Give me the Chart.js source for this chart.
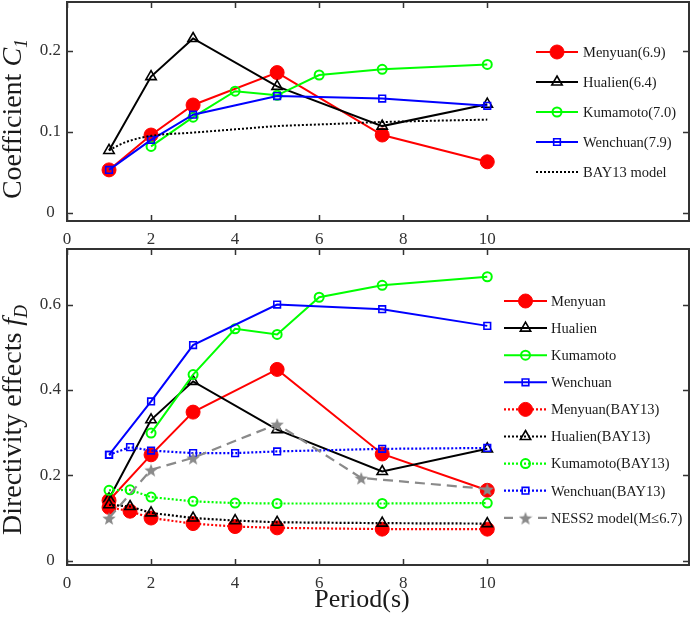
<!DOCTYPE html>
<html>
<head>
<meta charset="utf-8">
<script src="https://cdn.jsdelivr.net/npm/chart.js@4.4.0/dist/chart.umd.min.js"></script>
<style>
    html, body { margin: 0; padding: 0; background: #fff; width: 692px; height: 617px; overflow: hidden; }
    canvas { position: absolute; left: 0; }
    #topChart { top: 0; }
    #bottomChart { top: 246px; }
</style>
</head>
<body>
<canvas id="topChart" width="692" height="246"></canvas>
<canvas id="bottomChart" width="692" height="371"></canvas>
<script>
// Tick labels
const xTicks = [0, 2, 4, 6, 8, 10];
const topYTicks = [0, 0.1, 0.2];
const bottomYTicks = [0, 0.2, 0.4, 0.6];

// Top panel: coefficient C1
const periods = [1, 2, 3, 5, 7.5, 10];
const kumamotoPeriods = [2, 3, 4, 5, 6, 7.5, 10];
const bay13Periods = [1, 1.25, 1.5, 2, 3, 4, 5, 6, 7.5, 10];
const menyuanC1 = [0.053, 0.096, 0.133, 0.173, 0.096, 0.063];
const hualienC1 = [0.077, 0.168, 0.215, 0.156, 0.107, 0.134];
const kumamotoC1 = [0.082, 0.118, 0.150, 0.145, 0.170, 0.177, 0.183];
const wenchuanC1 = [0.053, 0.090, 0.121, 0.144, 0.141, 0.132];
const bay13C1 = [0.077, 0.084, 0.089, 0.095, 0.099, 0.103, 0.107, 0.109, 0.112, 0.115];

// Bottom panel: directivity effects fD
const bayPeriods = [1, 1.5, 2, 3, 4, 5, 7.5, 10];
const ness2Periods = [1, 2, 3, 5, 7, 10];
const menyuanFD = [0.141, 0.248, 0.348, 0.448, 0.250, 0.165];
const hualienFD = [0.145, 0.330, 0.420, 0.307, 0.209, 0.262];
const kumamotoFD = [0.299, 0.436, 0.543, 0.530, 0.617, 0.645, 0.665];
const wenchuanFD = [0.248, 0.373, 0.505, 0.600, 0.589, 0.550];
const menyuanBay = [0.125, 0.116, 0.100, 0.087, 0.080, 0.077, 0.074, 0.074];
const hualienBay = [0.131, 0.127, 0.112, 0.100, 0.094, 0.090, 0.088, 0.087];
const kumamotoBay = [0.165, 0.166, 0.149, 0.139, 0.135, 0.134, 0.134, 0.135];
const wenchuanBay = [0.248, 0.266, 0.258, 0.252, 0.252, 0.256, 0.262, 0.264];
const ness2FD = [0.100, 0.213, 0.241, 0.320, 0.194, 0.168];

const SERIF = "'Liberation Serif', 'Times New Roman', serif";
const RED = '#ff0000', BLACK = '#000000', GREEN = '#00ff00', BLUE = '#0000ff', GRAY = '#8a8a8a';
const NONE = 'rgba(0,0,0,0)';
const AXIS = '#333333';

function pts(xs, ys) {
    return xs.map((x, i) => ({ x: x, y: ys[i] }));
}

// Filled five-point star used as the NESS2 marker
function starImage(size, color) {
    const c = document.createElement('canvas');
    c.width = c.height = size;
    const g = c.getContext('2d');
    const r = size / 2, ri = r * 0.42;
    g.beginPath();
    for (let k = 0; k < 10; k++) {
        const rr = k % 2 ? ri : r;
        const ang = -Math.PI / 2 + k * Math.PI / 5;
        g.lineTo(r + rr * Math.cos(ang), r + 1 + rr * Math.sin(ang));
    }
    g.closePath();
    g.fillStyle = color;
    g.fill();
    return c;
}
const star = starImage(14, GRAY);

const marker = {
    menyuan: { pointStyle: 'circle', pointRadius: 7, pointBackgroundColor: RED, pointBorderColor: RED, pointBorderWidth: 1 },
    hualien: { pointStyle: 'triangle', pointRadius: 6, pointBackgroundColor: NONE, pointBorderColor: BLACK, pointBorderWidth: 1.6 },
    kumamoto: { pointStyle: 'circle', pointRadius: 4.5, pointBackgroundColor: NONE, pointBorderColor: GREEN, pointBorderWidth: 2 },
    wenchuan: { pointStyle: 'rect', pointRadius: 4.7, pointBackgroundColor: NONE, pointBorderColor: BLUE, pointBorderWidth: 1.6 }
};

function series(label, xs, ys, color, mk, dash) {
    return Object.assign({
        label: label,
        data: pts(xs, ys),
        borderColor: color,
        borderWidth: dash ? 2.2 : 2,
        borderDash: dash || [],
        backgroundColor: color
    }, mk);
}

const topData = [
    series('Menyuan(6.9)', periods, menyuanC1, RED, marker.menyuan),
    series('Hualien(6.4)', periods, hualienC1, BLACK, marker.hualien),
    series('Kumamoto(7.0)', kumamotoPeriods, kumamotoC1, GREEN, marker.kumamoto),
    series('Wenchuan(7.9)', periods, wenchuanC1, BLUE, marker.wenchuan),
    Object.assign(series('BAY13 model', bay13Periods, bay13C1, BLACK, { pointRadius: 0 }, [2, 2]),
        { cubicInterpolationMode: 'monotone', borderWidth: 2 })
];

const ness2 = series('NESS2 model(M\u22646.7)', ness2Periods, ness2FD, GRAY,
    { pointStyle: star, pointRadius: 7 }, [10, 6]);
ness2.legendDash = [9, 25];

const bottomData = [
    series('Menyuan', periods, menyuanFD, RED, marker.menyuan),
    series('Hualien', periods, hualienFD, BLACK, marker.hualien),
    series('Kumamoto', kumamotoPeriods, kumamotoFD, GREEN, marker.kumamoto),
    series('Wenchuan', periods, wenchuanFD, BLUE, marker.wenchuan),
    series('Menyuan(BAY13)', bayPeriods, menyuanBay, RED, marker.menyuan, [2, 2]),
    series('Hualien(BAY13)', bayPeriods, hualienBay, BLACK, marker.hualien, [2, 2]),
    series('Kumamoto(BAY13)', bayPeriods, kumamotoBay, GREEN, marker.kumamoto, [2, 2]),
    series('Wenchuan(BAY13)', bayPeriods, wenchuanBay, BLUE, marker.wenchuan, [2, 2]),
    ness2
];

// later series are drawn on top, as in the original figure
[topData, bottomData].forEach(list => list.forEach((d, i) => { d.order = list.length - i; }));

function drawRotated(ctx, parts, x, cy) {
    ctx.save();
    ctx.translate(x, cy);
    ctx.rotate(-Math.PI / 2);
    ctx.fillStyle = '#1a1a1a';
    ctx.textBaseline = 'alphabetic';
    ctx.textAlign = 'left';
    let w = 0;
    parts.forEach(p => { ctx.font = p.font; w += ctx.measureText(p.text).width; });
    let cx = -w / 2;
    parts.forEach(p => {
        ctx.font = p.font;
        ctx.fillText(p.text, cx, p.dy || 0);
        cx += ctx.measureText(p.text).width;
    });
    ctx.restore();
}

// Box with inward ticks, axis titles and the in-plot legend
const decor = {
    id: 'decor',
    afterDraw(chart, args, opts) {
        const ctx = chart.ctx;
        const a = chart.chartArea;
        const xs = chart.scales.x, ys = chart.scales.y;
        ctx.save();
        ctx.setLineDash([]);
        ctx.strokeStyle = AXIS;
        ctx.lineWidth = 1.5;
        ctx.beginPath();
        xTicks.forEach(v => {
            const px = Math.round(xs.getPixelForValue(v)) + 0.5;
            ctx.moveTo(px, a.bottom); ctx.lineTo(px, a.bottom - 6);
            ctx.moveTo(px, a.top); ctx.lineTo(px, a.top + 6);
        });
        opts.yTicks.forEach(v => {
            const py = Math.round(ys.getPixelForValue(v)) + 0.5;
            ctx.moveTo(a.left, py); ctx.lineTo(a.left + 6, py);
            ctx.moveTo(a.right, py); ctx.lineTo(a.right - 6, py);
        });
        ctx.stroke();
        ctx.lineWidth = 2;
        ctx.strokeRect(a.left, a.top, a.right - a.left, a.bottom - a.top);

        drawRotated(ctx, opts.title, 21, opts.titleY);

        if (opts.xTitle) {
            ctx.font = '26px ' + SERIF;
            ctx.fillStyle = '#1a1a1a';
            ctx.textAlign = 'center';
            ctx.textBaseline = 'alphabetic';
            ctx.fillText(opts.xTitle.text, opts.xTitle.x, opts.xTitle.y);
        }

        const lg = opts.legend;
        chart.data.datasets.forEach((d, i) => {
            const y = lg.y0 + i * lg.dy;
            ctx.save();
            ctx.strokeStyle = d.borderColor;
            ctx.lineWidth = d.borderWidth;
            ctx.setLineDash(d.legendDash || d.borderDash || []);
            ctx.beginPath();
            ctx.moveTo(lg.x0, y);
            ctx.lineTo(lg.x1, y);
            ctx.stroke();
            ctx.setLineDash([]);
            if (d.pointRadius > 0) {
                ctx.fillStyle = d.pointBackgroundColor || d.borderColor;
                ctx.strokeStyle = d.pointBorderColor || d.borderColor;
                ctx.lineWidth = d.pointBorderWidth || 1;
                Chart.helpers.drawPoint(ctx, {
                    pointStyle: d.pointStyle, radius: d.pointRadius,
                    rotation: 0, borderWidth: d.pointBorderWidth || 0
                }, (lg.x0 + lg.x1) / 2, y);
            }
            ctx.restore();
            ctx.font = '14.5px ' + SERIF;
            ctx.fillStyle = '#1a1a1a';
            ctx.textAlign = 'left';
            ctx.textBaseline = 'middle';
            ctx.fillText(d.label, lg.textX, y + 1);
        });
        ctx.restore();
    }
};

function scalesFor(yMin, yMax, yTicks, xHeight) {
    const tickFont = { family: SERIF, size: 17 };
    return {
        x: {
            type: 'linear', min: 0, max: 14.8,
            grid: { display: false, drawTicks: false },
            border: { display: false },
            afterBuildTicks: s => { s.ticks = xTicks.map(v => ({ value: v })); },
            afterFit: s => { s.height = xHeight; s.paddingLeft = 0; s.paddingRight = 0; },
            ticks: { font: tickFont, color: AXIS, padding: 8, maxRotation: 0, autoSkip: false }
        },
        y: {
            type: 'linear', min: yMin, max: yMax,
            grid: { display: false, drawTicks: false },
            border: { display: false },
            afterBuildTicks: s => { s.ticks = yTicks.map(v => ({ value: v })); },
            afterFit: s => { s.width = 67; s.paddingTop = 0; s.paddingBottom = 0; },
            ticks: { font: tickFont, color: AXIS, padding: 6, crossAlign: 'center', callback: v => String(v) }
        }
    };
}

function makeChart(id, datasets, scales, padding, decorOpts) {
    return new Chart(document.getElementById(id).getContext('2d'), {
        type: 'line',
        data: { datasets: datasets },
        options: {
            responsive: false,
            animation: false,
            devicePixelRatio: 1,
            layout: { padding: padding, autoPadding: false },
            scales: scales,
            plugins: {
                legend: { display: false },
                tooltip: { enabled: false },
                decor: decorOpts
            }
        },
        plugins: [decor]
    });
}

makeChart('topChart', topData, scalesFor(-0.01, 0.26, topYTicks, 25),
    { top: 2, right: 3, left: 0, bottom: 0 },
    {
        yTicks: topYTicks,
        title: [
            { text: 'Coefficient ', font: '28px ' + SERIF },
            { text: 'C', font: 'italic 28px ' + SERIF },
            { text: '1', font: 'italic 18px ' + SERIF, dy: 6 }
        ],
        titleY: 119,
        legend: { x0: 536, x1: 578, textX: 583, y0: 52, dy: 30 }
    });

makeChart('bottomChart', bottomData, scalesFor(-0.01, 0.73, bottomYTicks, 52),
    { top: 3, right: 3, left: 0, bottom: 0 },
    {
        yTicks: bottomYTicks,
        title: [
            { text: 'Directivity effects ', font: '28px ' + SERIF },
            { text: 'f', font: 'italic 28px ' + SERIF },
            { text: 'D', font: 'italic 18px ' + SERIF, dy: 6 }
        ],
        titleY: 174,
        xTitle: { text: 'Period(s)', x: 362, y: 361 },
        legend: { x0: 504, x1: 547, textX: 551, y0: 55, dy: 27.1 }
    });
</script>
</body>
</html>
